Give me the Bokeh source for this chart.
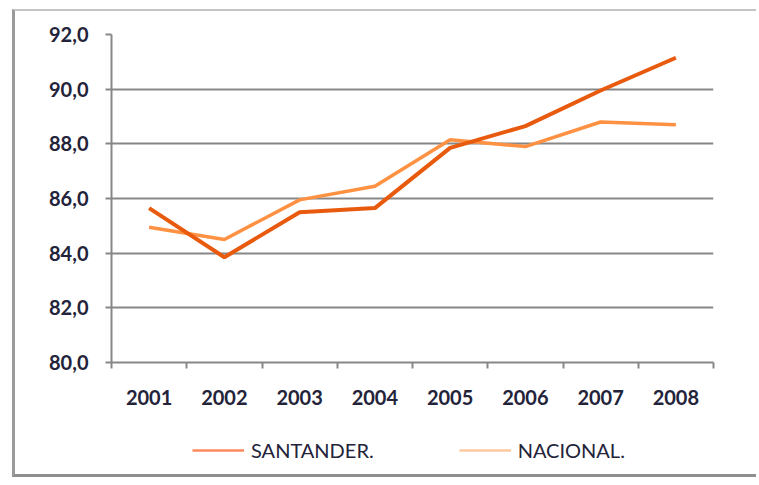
from bokeh.plotting import figure
from bokeh.layouts import column
from bokeh.models import (ColumnDataSource, FixedTicker, CustomJSTickFormatter,
                          Legend, LegendItem, Range1d)
from bokeh.embed import file_html
from bokeh.resources import INLINE

years = ["2001", "2002", "2003", "2004", "2005", "2006", "2007", "2008"]
santander = [85.65, 83.85, 85.5, 85.65, 87.85, 88.65, 89.95, 91.15]
nacional = [84.95, 84.5, 85.95, 86.45, 88.15, 87.9, 88.8, 88.7]
y_ticks = [80, 82, 84, 86, 88, 90, 92]

xpos = [i + 0.5 for i in range(len(years))]
src = ColumnDataSource(dict(x=xpos, santander=santander, nacional=nacional))

p = figure(width=741, height=410, output_backend="svg", toolbar_location=None,
           x_range=Range1d(0, len(years)), y_range=Range1d(y_ticks[0], y_ticks[-1]),
           min_border_left=96, min_border_right=43, min_border_top=23,
           min_border_bottom=59, background_fill_color="white",
           border_fill_color="white")
p.outline_line_color = None

line_color_grid = "#878787"
font = "Lato"
label_color = "#23233a"

# x axis: labels at centres, ticks at boundaries (minor ticks)
p.xaxis.ticker = FixedTicker(ticks=xpos, minor_ticks=list(range(len(years) + 1)))
p.xaxis.formatter = CustomJSTickFormatter(args=dict(labels=years),
                                          code="return labels[Math.floor(tick)];")
p.xaxis.major_tick_out = 0
p.xaxis.major_tick_in = 0
p.xaxis.minor_tick_out = 6
p.xaxis.minor_tick_in = 0
p.xaxis.minor_tick_line_color = line_color_grid
p.xaxis.minor_tick_line_width = 2
p.xaxis.axis_line_color = line_color_grid
p.xaxis.axis_line_width = 2
p.xaxis.major_label_standoff = 21
p.xaxis.major_label_text_font = font
p.xaxis.major_label_text_font_style = "bold"
p.xaxis.major_label_text_font_size = "20px"
p.xaxis.major_label_text_color = label_color

p.yaxis.ticker = FixedTicker(ticks=y_ticks)
p.yaxis.formatter = CustomJSTickFormatter(code="return tick.toFixed(1).replace('.', ',');")
p.yaxis.major_tick_out = 6
p.yaxis.major_tick_in = 0
p.yaxis.minor_tick_line_color = None
p.yaxis.major_tick_line_color = line_color_grid
p.yaxis.major_tick_line_width = 2
p.yaxis.axis_line_color = line_color_grid
p.yaxis.axis_line_width = 2
p.yaxis.major_label_standoff = 17
p.yaxis.major_label_text_font = font
p.yaxis.major_label_text_font_style = "bold"
p.yaxis.major_label_text_font_size = "20px"
p.yaxis.major_label_text_color = label_color

p.xgrid.grid_line_color = None
p.ygrid.ticker = FixedTicker(ticks=y_ticks)
p.ygrid.grid_line_color = line_color_grid
p.ygrid.grid_line_width = 2

p.line("x", "nacional", source=src, line_color="#FF9142", line_width=3.5)
p.line("x", "santander", source=src, line_color="#E85A0E", line_width=4)

# legend strip under the chart (its frame is aligned with the chart's frame)
lg = figure(width=741, height=53, output_backend="svg", toolbar_location=None,
            x_range=Range1d(0, 1), y_range=Range1d(0, 1),
            x_axis_type=None, y_axis_type=None, min_border=0,
            background_fill_color="white", border_fill_color="white")
lg.outline_line_color = None
lg.grid.grid_line_color = None
# same series, outside this strip's ranges: only their legend swatches show
leg_s = lg.line("x", "santander", source=src, line_color="#FF8A5C", line_width=2.5)
leg_n = lg.line("x", "nacional", source=src, line_color="#FFC9A0", line_width=2.5)

legend = Legend(items=[LegendItem(label="SANTANDER.", renderers=[leg_s]),
                       LegendItem(label="NACIONAL.", renderers=[leg_n])],
                orientation="horizontal", location=(81, 12),
                glyph_width=52, label_standoff=7, spacing=85,
                label_text_font=font, label_text_font_size="20px",
                label_text_color=label_color, border_line_color=None,
                background_fill_alpha=0, margin=0, padding=0)
lg.add_layout(legend, "center")

layout = column(p, lg, spacing=0,
                styles={"border-left": "3px solid #9a9a9a", "border-top": "2px solid #c4c4c4",
                        "border-bottom": "3px solid #8f8f8f", "margin-left": "12px",
                        "margin-top": "9px"})

open("out.html", "w").write(file_html(layout, INLINE))
